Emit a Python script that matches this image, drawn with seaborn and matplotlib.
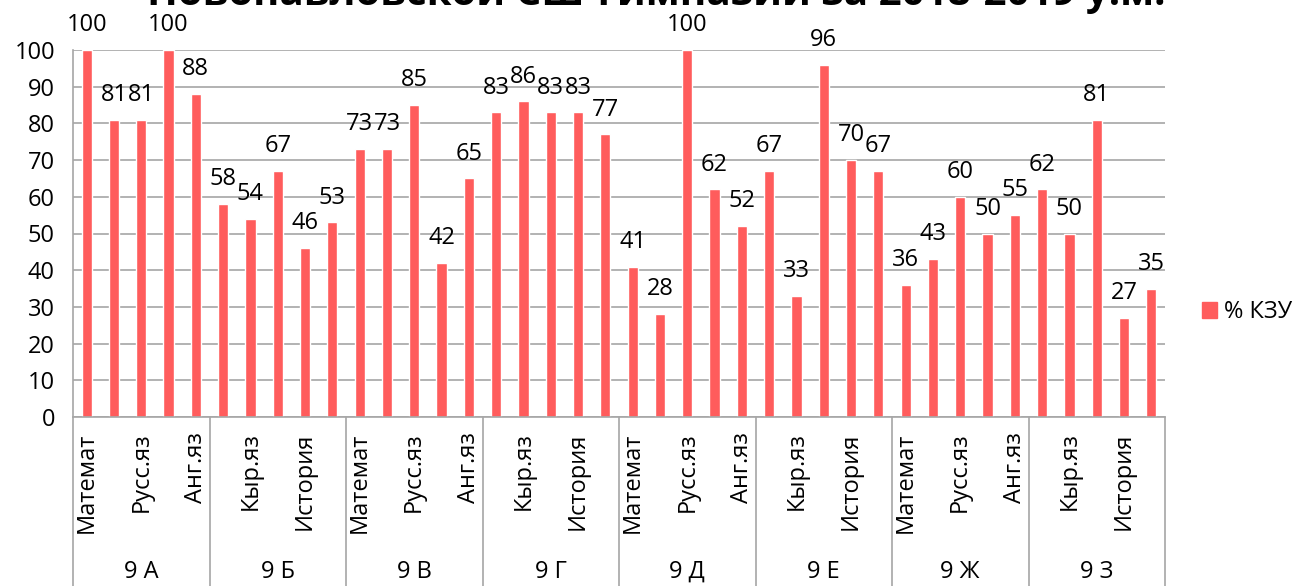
import pandas as pd
import matplotlib.pyplot as plt
import seaborn as sns
from matplotlib.patches import Patch
from matplotlib.lines import Line2D

groups = ["9 А", "9 Б", "9 В", "9 Г", "9 Д", "9 Е", "9 Ж", "9 З"]
subjects = ["Математ", "Кыр.яз", "Русс.яз", "История", "Анг.яз"]

kzu_9a = [100, 81, 81, 100, 88]
kzu_9b = [58, 54, 67, 46, 53]
kzu_9v = [73, 73, 85, 42, 65]
kzu_9g = [83, 86, 83, 83, 77]
kzu_9d = [41, 28, 100, 62, 52]
kzu_9e = [67, 33, 96, 70, 67]
kzu_9zh = [36, 43, 60, 50, 55]
kzu_9z = [62, 50, 81, 27, 35]

series_name = "% КЗУ"
title = "Новопавловской СШ-гимназии за 2018-2019 у.м."

all_vals = [kzu_9a, kzu_9b, kzu_9v, kzu_9g, kzu_9d, kzu_9e, kzu_9zh, kzu_9z]
rows = []
for g, vals in zip(groups, all_vals):
    for s, v in zip(subjects, vals):
        rows.append({"key": g + "|" + s, "group": g, "subject": s, "value": v})
df = pd.DataFrame(rows)

sns.set_style("white")
plt.rcParams["font.family"] = ["Open Sans", "DejaVu Sans"]
plt.rcParams["text.color"] = "black"
plt.rcParams["xtick.color"] = "black"
plt.rcParams["ytick.color"] = "black"

bar_color = "#FF5C5C"
grid_color = "#A6A6A6"
fs = 17

fig = plt.figure(figsize=(12.97, 5.86), dpi=100)
W, H = 1297, 586
left, right, top, bottom = 73, 1165, 50, 417
ax = fig.add_axes([left / W, 1 - bottom / H, (right - left) / W, (bottom - top) / H])

sns.barplot(data=df, x="key", y="value", color=bar_color, saturation=1,
            width=0.37, ax=ax)

ax.set_ylim(0, 100)
ax.set_xlim(-0.5, len(df) - 0.5)
ax.set_yticks(range(0, 101, 10))
ax.yaxis.grid(True, color=grid_color, linewidth=1.2)
ax.set_axisbelow(True)
ax.tick_params(axis="y", length=0, pad=13, labelsize=fs)
ax.set_xlabel("")
ax.set_ylabel("")

# only every other subject label fits
idx = list(range(0, len(df), 2))
ax.set_xticks(idx)
ax.set_xticklabels([df["subject"][i] for i in idx], rotation=90, fontsize=fs)
ax.tick_params(axis="x", length=0, pad=11)

for sp in ["top", "right"]:
    ax.spines[sp].set_visible(False)
for sp in ["left", "bottom"]:
    ax.spines[sp].set_color(grid_color)
    ax.spines[sp].set_linewidth(1.2)

# value labels
for i, v in enumerate(df["value"]):
    ax.annotate(str(v), xy=(i, v), xytext=(0, 13.5), textcoords="offset points",
                ha="center", va="baseline", fontsize=fs, annotation_clip=False)

# group separators and group names
depth = -(H - bottom) / (bottom - top)
trans = ax.get_xaxis_transform()
n = len(subjects)
for k in range(len(groups) + 1):
    xk = k * n - 0.5
    ax.add_line(Line2D([xk, xk], [0, depth], transform=trans, color=grid_color,
                       linewidth=1.2, clip_on=False))
for k, g in enumerate(groups):
    ax.text(k * n + (n - 1) / 2, -(572 - bottom) / (bottom - top), g,
            transform=trans, ha="center", va="center", fontsize=fs)

fig.legend(handles=[Patch(color=bar_color, label=series_name)], loc="center left",
           bbox_to_anchor=(1197 / W, 1 - 312 / H), frameon=False, fontsize=fs,
           handlelength=0.65, handleheight=0.65, handletextpad=0.3,
           borderpad=0.2, borderaxespad=0)

# title is cut off at the top in the original
fig.text(0.506, 1 - 5 / H, title, ha="center", va="baseline", fontsize=29,
         fontweight="bold")

fig.savefig("out.png", dpi=100)
